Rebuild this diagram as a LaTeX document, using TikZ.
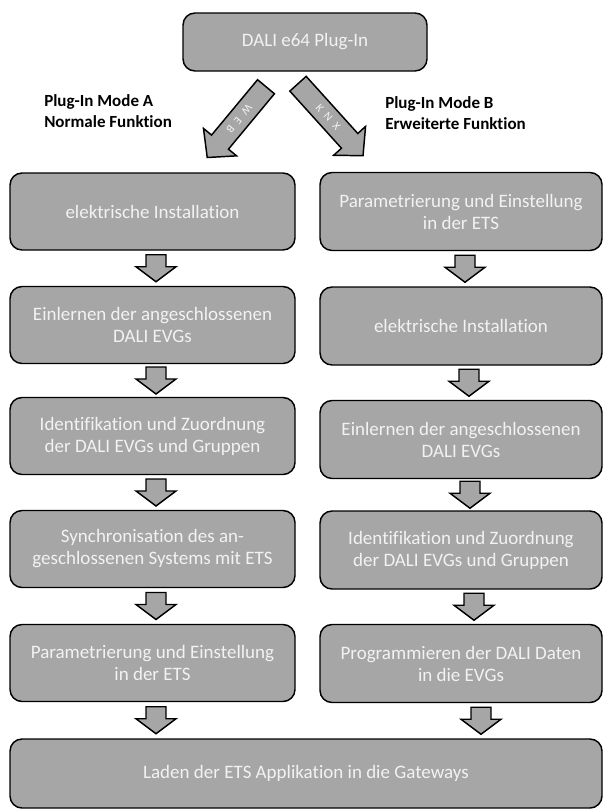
\documentclass[tikz,border=0pt]{standalone}
\usepackage{fontspec}
\setmainfont[Ligatures=NoCommon]{Carlito}
\usetikzlibrary{calc}
\definecolor{boxgray}{HTML}{A6A6A6}
\definecolor{boxtext}{HTML}{F2F2F2}
\begin{document}
\begin{tikzpicture}[x=0.75pt,y=-0.75pt,
  box/.style={draw=black, line width=1.1pt, fill=boxgray, rounded corners=9pt, text=boxtext, align=center, font=\fontsize{14.25}{16.5}\selectfont, inner sep=0pt},
  colL/.style={box, minimum width=213.75pt, minimum height=57.75pt},
  colR/.style={box, minimum width=211.5pt, minimum height=58.5pt},
  arr/.style={draw=black, line width=1.1pt, fill=boxgray, line join=miter},
  arrtext/.style={text=boxtext, font=\fontsize{8.5}{8.5}\selectfont, inner sep=0pt},
  lbl/.style={font=\bfseries\fontsize{12.75}{16}\selectfont, align=left, anchor=west, inner sep=0pt},
  downarr/.pic={\draw[arr] (-10,-13.5) -- (10,-13.5) -- (10,-1.5) -- (20,-1.5) -- (0,13.5) -- (-20,-1.5) -- (-10,-1.5) -- cycle;}
]
\useasboundingbox (0,0) rectangle (603,810);

% top node
\node[box, minimum width=183pt, minimum height=43.5pt] (T) at (305,42) {DALI e64 Plug-In};

% labels
\node[lbl] (LA) at (44,111) {Plug-In Mode A\\Normale Funktion};
\node[lbl] (LB) at (385,113) {Plug-In Mode B\\Erweiterte Funktion};

% left column
\node[colL] (L1) at (152.5,211.5) {elektrische Installation};
\node[colL] (L2) at (152.5,325) {Einlernen der angeschlossenen\\DALI EVGs};
\node[colL] (L3) at (152.5,436) {Identifikation und Zuordnung\\der DALI EVGs und Gruppen};
\node[colL] (L4) at (152.5,549) {Synchronisation des an-\\geschlossenen Systems mit ETS};
\node[colL] (L5) at (152.5,663) {Parametrierung und Einstellung\\in der ETS};

% right column
\node[colR] (R1) at (461,211.5) {Parametrierung und Einstellung\\in der ETS};
\node[colR] (R2) at (461,326) {elektrische Installation};
\node[colR] (R3) at (461,439.5) {Einlernen der angeschlossenen\\DALI EVGs};
\node[colR] (R4) at (461,550) {Identifikation und Zuordnung\\der DALI EVGs und Gruppen};
\node[colR] (R5) at (461,663.5) {Programmieren der DALI Daten\\in die EVGs};

% bottom
\node[box, minimum width=444pt, minimum height=51.75pt] (B) at (306,773.5) {Laden der ETS Applikation in die Gateways};

% big diagonal arrows
\begin{scope}[shift={($(T.south)+(-39,15)$)}, rotate=-129.7]
  \draw[arr] (0,-11) -- (72,-11) -- (72,-21.5) -- (92,0) -- (72,21.5) -- (72,11) -- (0,11) -- cycle;
  \node[arrtext, rotate=-129.7] (AW) at (42,0) {W\hspace{4.5pt}E\hspace{4.5pt}B};
\end{scope}
\begin{scope}[shift={($(T.south)+(-7,12)$)}, rotate=-47.9]
  \draw[arr] (0,-11) -- (77,-11) -- (77,-21.5) -- (97,0) -- (77,21.5) -- (77,11) -- (0,11) -- cycle;
  \node[arrtext, rotate=-47.9] (AK) at (45,0) {K\hspace{4.5pt}N\hspace{4.5pt}X};
\end{scope}

% small arrows left
\pic at ($(L1.south)!0.5!(L2.north)+(3.5,0)$) {downarr};
\pic at ($(L2.south)!0.5!(L3.north)+(3.5,0)$) {downarr};
\pic at ($(L3.south)!0.5!(L4.north)+(3.5,0)$) {downarr};
\pic at ($(L4.south)!0.5!(L5.north)+(3.5,0)$) {downarr};
\pic at ($(L5.south)!0.5!(L5.south|-B.north)+(3.5,0)$) {downarr};

% small arrows right
\pic at ($(R1.south)!0.5!(R2.north)+(4,0)$) {downarr};
\pic at ($(R2.south)!0.5!(R3.north)+(8,0)$) {downarr};
\pic at ($(R3.south)!0.5!(R4.north)+(9,0)$) {downarr};
\pic at ($(R4.south)!0.5!(R5.north)+(13,0)$) {downarr};
\pic at ($(R5.south)!0.5!(R5.south|-B.north)+(20,0)$) {downarr};
\end{tikzpicture}
\end{document}
